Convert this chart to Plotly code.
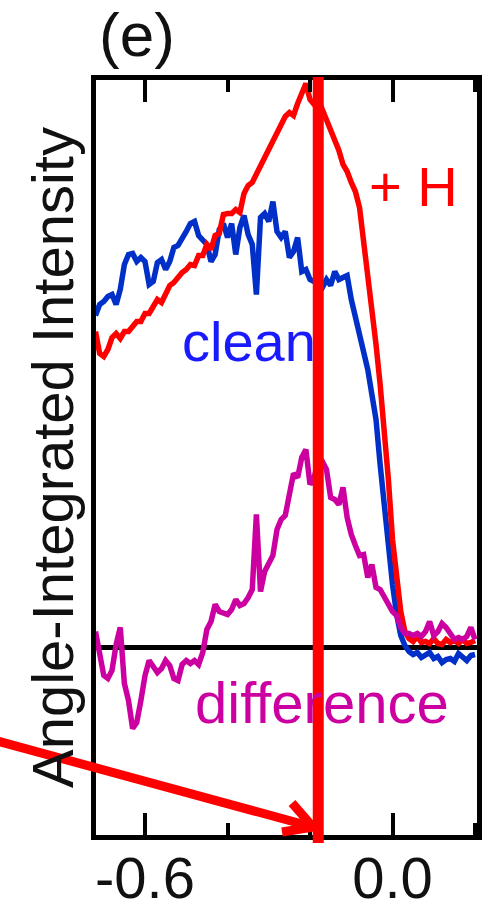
import plotly.graph_objects as go

# Binding energy grid (eV, relative to E_F)
energy = [
    -0.72, -0.71, -0.70, -0.69, -0.68, -0.67, -0.66, -0.65, -0.64, -0.63,
    -0.62, -0.61, -0.60, -0.59, -0.58, -0.57, -0.56, -0.55, -0.54, -0.53,
    -0.52, -0.51, -0.50, -0.49, -0.48, -0.47, -0.46, -0.45, -0.44, -0.43,
    -0.42, -0.41, -0.40, -0.39, -0.38, -0.37, -0.36, -0.35, -0.34, -0.33,
    -0.32, -0.31, -0.30, -0.29, -0.28, -0.27, -0.26, -0.25, -0.24, -0.23,
    -0.22, -0.21, -0.20, -0.19, -0.18, -0.17, -0.16, -0.15, -0.14, -0.13,
    -0.12, -0.11, -0.10, -0.09, -0.08, -0.07, -0.06, -0.05, -0.04, -0.03,
    -0.02, -0.01, 0.00, 0.01, 0.02, 0.03, 0.04, 0.05, 0.06, 0.07,
    0.08, 0.09, 0.10, 0.11, 0.12, 0.13, 0.14, 0.15, 0.16, 0.17,
    0.18, 0.19, 0.20,
]

# Angle-integrated intensity after hydrogen exposure ("+ H")
intensity_h = [
    3.16, 2.94, 2.91, 2.98, 3.10, 3.14, 3.09, 3.16, 3.16, 3.21,
    3.26, 3.26, 3.34, 3.34, 3.42, 3.48, 3.45, 3.55, 3.62, 3.65,
    3.71, 3.75, 3.78, 3.83, 3.82, 3.92, 3.92, 4.03, 3.98, 4.12,
    4.14, 4.33, 4.34, 4.34, 4.38, 4.35, 4.54, 4.62, 4.65, 4.73,
    4.82, 4.90, 4.98, 5.06, 5.15, 5.22, 5.31, 5.35, 5.32, 5.44,
    5.53, 5.64, 5.48, 5.43, 5.48, 5.38, 5.26, 5.16, 5.07, 4.97,
    4.83, 4.76, 4.65, 4.56, 4.40, 4.08, 3.72, 3.38, 3.03, 2.63,
    2.18, 1.68, 1.08, 0.68, 0.36, 0.16, 0.09, 0.06, 0.11, 0.05,
    0.06, 0.04, 0.09, 0.04, 0.03, 0.08, 0.05, 0.07, 0.04, 0.08,
    0.04, 0.05, 0.07,
]

# Angle-integrated intensity of the clean surface
intensity_clean = [
    3.32, 3.43, 3.46, 3.51, 3.53, 3.43, 3.58, 3.83, 3.93, 3.94,
    3.86, 3.90, 3.86, 3.63, 3.66, 3.85, 3.88, 3.78, 3.86, 4.00,
    4.02, 4.08, 4.16, 4.24, 4.26, 4.12, 4.08, 4.03, 3.86, 3.93,
    4.18, 4.24, 4.10, 4.24, 3.93, 4.20, 4.32, 4.13, 4.03, 3.53,
    4.30, 4.34, 4.26, 4.46, 4.16, 4.10, 4.16, 3.90, 3.96, 4.10,
    3.76, 3.78, 3.68, 3.66, 3.62, 3.60, 3.68, 3.62, 3.76, 3.68,
    3.70, 3.72, 3.48, 3.30, 3.18, 2.98, 2.78, 2.53, 2.28, 1.83,
    1.38, 0.93, 0.63, 0.33, 0.12, 0.02, -0.04, -0.07, -0.05, -0.10,
    -0.08, -0.05, -0.11, -0.09, -0.15, -0.12, -0.11, -0.14, -0.06, -0.09,
    -0.13, -0.08, -0.07,
]

# Difference spectrum (+ H minus clean)
intensity_diff = [
    0.16, -0.03, -0.28, -0.31, -0.23, 0.03, 0.20, -0.36, -0.53, -0.81,
    -0.75, -0.53, -0.28, -0.13, -0.18, -0.25, -0.21, -0.13, -0.18, -0.31,
    -0.33, -0.17, -0.13, -0.16, -0.13, -0.17, -0.05, 0.18, 0.26, 0.43,
    0.36, 0.34, 0.33, 0.38, 0.48, 0.42, 0.44, 0.50, 0.58, 1.33,
    0.56, 0.76, 0.83, 0.92, 1.18, 1.28, 1.32, 1.56, 1.74, 1.70,
    1.90, 1.98, 1.63, 1.70, 1.86, 1.86, 1.78, 1.50, 1.48, 1.43,
    1.60, 1.30, 1.13, 1.02, 0.92, 0.93, 0.70, 0.83, 0.60, 0.58,
    0.50, 0.43, 0.36, 0.32, 0.20, 0.14, 0.14, 0.12, 0.14, 0.11,
    0.16, 0.26, 0.12, 0.16, 0.24, 0.20, 0.14, 0.08, 0.10, 0.08,
    0.11, 0.20, 0.08,
]

# Energy of the marked state (vertical red line)
marker_energy = -0.18

tick_values = [-0.6, 0.0]
tick_labels = ["-0.6", "0.0"]
minor_tick_values = [-0.4, -0.2, 0.2]

# ---- figure geometry (pixels) ----
W, H = 488, 902
PL, PR, PT, PB = 96, 477, 80, 835          # plot-area edges
X_RANGE = [-0.7188, 0.2048]
Y_RANGE = [-1.875, 5.675]

FONT = "Liberation Sans, Arial, Helvetica, sans-serif"
RED = "#ff0000"
BLUE = "#0030c8"
MAGENTA = "#cc00a0"


def paper(px, py):
    """Convert a pixel position to paper coordinates."""
    return (px - PL) / (PR - PL), (PB - py) / (PB - PT)


fig = go.Figure()

fig.add_trace(go.Scatter(x=energy, y=intensity_clean, mode="lines",
                         line=dict(color=BLUE, width=5.5), name="clean"))
fig.add_trace(go.Scatter(x=energy, y=intensity_h, mode="lines",
                         line=dict(color=RED, width=5.5), name="+ H"))
fig.add_trace(go.Scatter(x=energy, y=intensity_diff, mode="lines",
                         line=dict(color=MAGENTA, width=5.5), name="difference"))

# vertical marker line at the hydrogen-induced state
fig.add_shape(type="line", xref="x", yref="paper",
              x0=marker_energy, x1=marker_energy,
              y0=paper(0, 843)[1], y1=paper(0, 77)[1],
              line=dict(color=RED, width=11), layer="above")

# arrow pointing at the marker line from the left
tip = paper(313, 827)
tail = paper(-10, 739)
barb_a = paper(292, 803)
barb_b = paper(282, 832)
arrow_path = (f"M {tail[0]},{tail[1]} L {tip[0]},{tip[1]} "
              f"M {barb_a[0]},{barb_a[1]} L {tip[0]},{tip[1]} L {barb_b[0]},{barb_b[1]}")
fig.add_shape(type="path", xref="paper", yref="paper", path=arrow_path,
              line=dict(color=RED, width=9), layer="above")


def label(text, px, py, size, color, angle=0):
    x, y = paper(px, py)
    fig.add_annotation(text=text, x=x, y=y, xref="paper", yref="paper",
                       xanchor="center", yanchor="middle", showarrow=False,
                       textangle=angle, font=dict(family=FONT, size=size, color=color))


label("(e)", 137, 34, 62, "#111111")
label("+ H", 413, 186, 56, RED)
label("clean", 249, 341, 56, "#1a1aff")
label("difference", 322, 702, 58, MAGENTA)
label("Angle-Integrated Intensity", 52, 458, 58, "#111111", angle=-90)

fig.update_xaxes(
    range=X_RANGE, showline=True, linecolor="black", linewidth=5, mirror="allticks",
    ticks="inside", ticklen=22, tickwidth=4, tickcolor="black",
    tickmode="array", tickvals=tick_values, ticktext=tick_labels,
    tickfont=dict(family=FONT, size=58, color="#111111"), ticklabelstandoff=-12,
    minor=dict(tickmode="array", tickvals=minor_tick_values, ticks="inside",
               ticklen=12, tickwidth=4, tickcolor="black", showgrid=False),
    showgrid=False, zeroline=False, automargin=False,
)
fig.update_yaxes(
    range=Y_RANGE, showline=True, linecolor="black", linewidth=5, mirror=True,
    ticks="", showticklabels=False, showgrid=False,
    zeroline=True, zerolinecolor="black", zerolinewidth=5, automargin=False,
)

fig.update_layout(
    width=W, height=H,
    margin=dict(l=PL, r=W - PR, t=PT, b=H - PB, pad=0),
    plot_bgcolor="white", paper_bgcolor="white",
    showlegend=False,
)

fig.write_html("out.html")
